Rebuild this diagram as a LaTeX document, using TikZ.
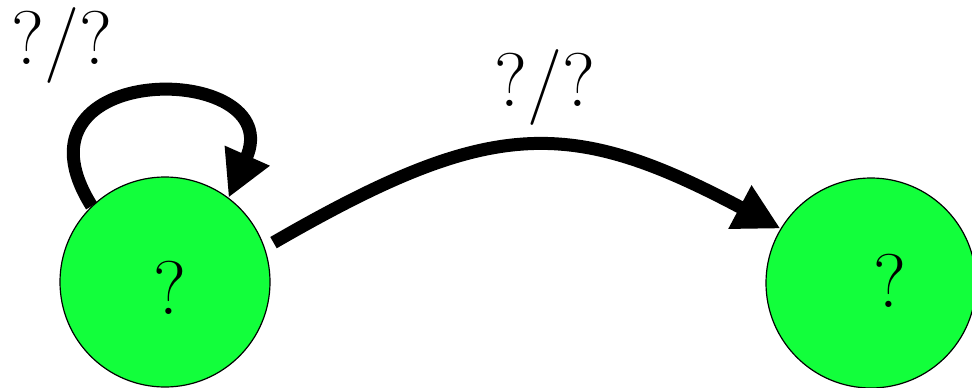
\documentclass[tikz,border=0pt]{standalone}
\usepackage{xcolor}
\usetikzlibrary{arrows.meta}
\definecolor{stategreen}{HTML}{12FF3B}

\begin{document}
\begin{tikzpicture}[
  x=1pt, y=1pt,
  state/.style={circle,draw=black,line width=1.2pt,fill=stategreen,
                minimum size=210pt,inner sep=0pt},
  qmark/.style={font=\fontsize{76}{84}\selectfont},
  lbl/.style={font=\fontsize{76}{84}\selectfont,inner sep=0pt},
  ar/.style={-{Triangle[length=46pt,width=46pt]},line width=13pt},
]
\useasboundingbox (0,0) rectangle (972,-388);

% ---- the two states
\node[state] (q0) at (165,-282) {};
\node[qmark] (q0txt) at (170,-288) {?};
\node[state] (q1) at (871,-283) {};
\node[qmark] (q1txt) at (890,-281) {?};

% ---- self loop on q0
\draw[ar] (q0.134) .. controls +(122:175) and +(66:150) .. (q0.53);
\node[lbl] (loop) at (62,-45) {?/?};

% ---- transition q0 -> q1
\draw[ar,shorten <=10pt] (q0.19) .. controls +(30:260) and +(152:240) .. (q1.149);
\node[lbl] (move) at (545,-87) {?/?};
\end{tikzpicture}
\end{document}
